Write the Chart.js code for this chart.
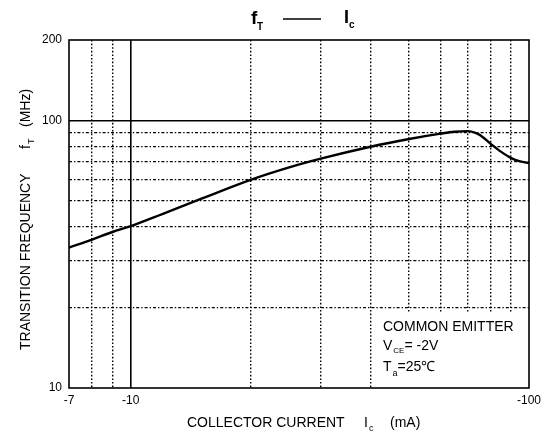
<!DOCTYPE html>
<html>
<head>
<meta charset="utf-8">
<script src="https://cdn.jsdelivr.net/npm/chart.js@4.4.1/dist/chart.umd.min.js"></script>
<style>
  html, body { margin: 0; padding: 0; background: #fff; }
  #wrap { width: 548px; height: 432px; position: relative; }
</style>
</head>
<body>
<div id="wrap"><canvas id="chart"></canvas></div>
<script>
// collector current |Ic| in mA (axis is labelled negative)
const currentMA = [7, 8, 9, 10, 12, 15, 20, 25, 30, 40, 50, 60, 65, 70, 75, 80, 85, 90, 95, 100];
// transition frequency fT in MHz
const freqMHz = [33.5, 35.9, 38.3, 40.3, 44.7, 50.9, 60, 66.8, 72, 79.8, 85.3, 89.3, 90.8, 91.3, 88.6, 82, 76.5, 72.5, 70.3, 69.3];

const xGridValues = [7, 8, 9, 10, 20, 30, 40, 50, 60, 70, 80, 90, 100];
const xTickLabels = { 7: "-7", 10: "-10", 100: "-100" };
const yGridValues = [10, 20, 30, 40, 50, 60, 70, 80, 90, 100, 200];
const yTickLabels = { 10: "10", 100: "100", 200: "200" };

const FONT = '"Liberation Sans", Arial, sans-serif';
const INK = "#000";

// draws text with a subscript, returns the end x
function subText(ctx, x, y, main, sub, size, subSize, dy) {
  ctx.font = `${size}px ${FONT}`;
  ctx.fillText(main, x, y);
  const w = ctx.measureText(main).width;
  ctx.font = `${subSize}px ${FONT}`;
  ctx.fillText(sub, x + w + 1, y + dy);
  return x + w + 1 + ctx.measureText(sub).width;
}

const decor = {
  id: "decor",
  beforeDatasetsDraw(chart) {
    const { ctx, chartArea: a } = chart;
    ctx.save();
    // the note box hides the grid behind it
    ctx.fillStyle = "#fff";
    ctx.fillRect(a.left + 310, a.top + 273, a.right - a.left - 310, a.bottom - a.top - 273);
    ctx.strokeStyle = INK;
    ctx.lineWidth = 1.6;
    ctx.strokeRect(a.left, a.top, a.right - a.left, a.bottom - a.top);
    ctx.restore();
  },
  afterDraw(chart) {
    const { ctx } = chart;
    ctx.save();
    ctx.fillStyle = INK;
    ctx.textBaseline = "alphabetic";
    ctx.textAlign = "left";

    // title: fT —— Ic
    ctx.font = `bold 19px ${FONT}`;
    ctx.fillText("f", 251, 24);
    ctx.font = `bold 10px ${FONT}`;
    ctx.fillText("T", 257, 30);
    ctx.strokeStyle = INK;
    ctx.lineWidth = 1.4;
    ctx.beginPath();
    ctx.moveTo(283, 19);
    ctx.lineTo(321, 19);
    ctx.stroke();
    ctx.font = `bold 18px ${FONT}`;
    ctx.fillText("I", 344, 23);
    ctx.font = `bold 10px ${FONT}`;
    ctx.fillText("c", 349, 28);

    // condition note
    ctx.font = `14px ${FONT}`;
    ctx.fillText("COMMON EMITTER", 383, 331);
    let e = subText(ctx, 383, 350, "V", "CE", 14, 8, 3);
    ctx.font = `14px ${FONT}`;
    ctx.fillText("= -2V", e, 350);
    e = subText(ctx, 383, 371, "T", "a", 14, 9, 5);
    ctx.font = `14px ${FONT}`;
    ctx.fillText("=25\u2103", e, 371);

    // x axis title
    ctx.font = `14px ${FONT}`;
    ctx.fillText("COLLECTOR CURRENT", 187, 427);
    subText(ctx, 364, 427, "I", "c", 14, 9, 4);
    ctx.font = `14px ${FONT}`;
    ctx.fillText("(mA)", 390, 427);

    // y axis title (rotated)
    ctx.translate(30, 350);
    ctx.rotate(-Math.PI / 2);
    ctx.font = `14px ${FONT}`;
    ctx.fillText("TRANSITION FREQUENCY", 0, 0);
    subText(ctx, 201, 0, "f", "T", 14, 9, 4);
    ctx.font = `14px ${FONT}`;
    ctx.fillText("(MHz)", 223, 0);
    ctx.restore();
  }
};

const isEdgeX = v => v === 7 || v === 100;
const isEdgeY = v => v === 10 || v === 200;

new Chart(document.getElementById("chart"), {
  type: "line",
  data: {
    datasets: [{
      data: currentMA.map((x, i) => ({ x, y: freqMHz[i] })),
      borderColor: INK,
      borderWidth: 2.4,
      pointRadius: 0,
      cubicInterpolationMode: "monotone",
      fill: false
    }]
  },
  options: {
    responsive: true,
    maintainAspectRatio: false,
    animation: false,
    layout: { padding: { top: 40, right: 19, left: 0, bottom: 0 } },
    plugins: { legend: { display: false }, tooltip: { enabled: false }, title: { display: false } },
    scales: {
      x: {
        type: "logarithmic",
        min: 7,
        max: 100,
        afterFit: s => { s.height = 44; },
        afterBuildTicks: s => { s.ticks = xGridValues.map(value => ({ value })); },
        ticks: {
          autoSkip: false,
          maxRotation: 0,
          padding: 5,
          color: INK,
          font: { family: FONT, size: 12 },
          callback: v => xTickLabels[v] ?? ""
        },
        grid: {
          drawTicks: false,
          color: c => isEdgeX(c.tick.value) ? "rgba(0,0,0,0)" : INK,
          lineWidth: c => c.tick.value === 10 ? 1.6 : 1.4
        },
        border: {
          display: false,
          dash: c => c.tick && c.tick.value === 10 ? [] : [1.6, 2]
        }
      },
      y: {
        type: "logarithmic",
        min: 10,
        max: 200,
        afterFit: s => { s.width = 69; },
        afterBuildTicks: s => { s.ticks = yGridValues.map(value => ({ value })); },
        ticks: {
          autoSkip: false,
          padding: 7,
          color: INK,
          font: { family: FONT, size: 12 },
          callback: v => yTickLabels[v] ?? ""
        },
        grid: {
          drawTicks: false,
          color: c => isEdgeY(c.tick.value) ? "rgba(0,0,0,0)" : INK,
          lineWidth: c => c.tick.value === 100 ? 1.6 : 1.2
        },
        border: {
          display: false,
          dash: c => c.tick && c.tick.value === 100 ? [] : [3, 2, 1.4, 2]
        }
      }
    }
  },
  plugins: [decor]
});
</script>
</body>
</html>
